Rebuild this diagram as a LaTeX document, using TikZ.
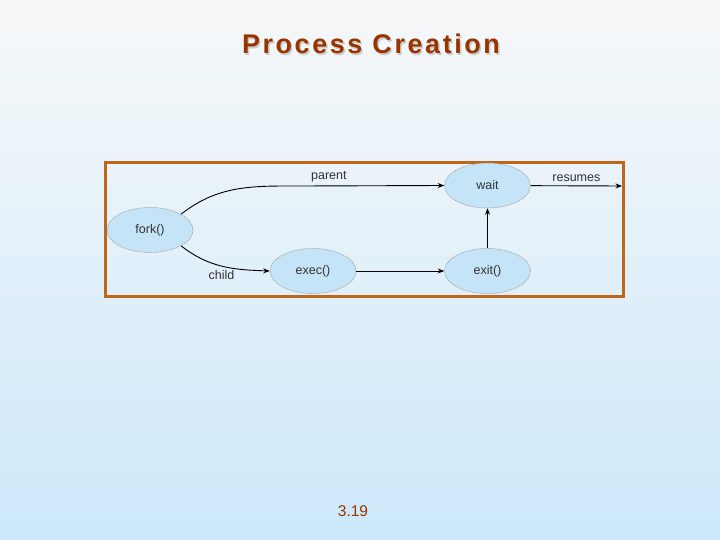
\documentclass[tikz,border=0pt]{standalone}
\usepackage{fontspec}
\setmainfont{Liberation Sans}
\usepackage{xcolor}
\usepackage{tikz}
\usetikzlibrary{arrows.meta,positioning,shapes.geometric}
\definecolor{titlebrown}{RGB}{153,51,0}
\definecolor{frameorange}{RGB}{192,102,26}
\definecolor{ovalblue}{RGB}{197,228,247}
\definecolor{bgtop}{RGB}{247,248,249}
\definecolor{bgbottom}{RGB}{204,232,250}
\tikzset{
  proc/.style={ellipse, draw=gray!80, dash pattern=on 1.5pt off 0.8pt, line width=0.5pt, fill=ovalblue, minimum width=86pt, minimum height=45pt, inner sep=0pt, font=\fontsize{12.5}{14}\selectfont, text=black!80},
  arr/.style={-{Stealth[length=6.5pt,width=5pt]}, line width=0.9pt},
  lbl/.style={font=\fontsize{12.5}{14}\selectfont, text=black!80},
  titlefont/.style={font=\bfseries\fontsize{27}{32}\selectfont\addfontfeatures{LetterSpace=9.5}}
}

\begin{document}
\begin{tikzpicture}[x=1pt, y=-1pt]
  \shade[top color=bgtop, bottom color=bgbottom] (0,0) rectangle (720,540);
  \useasboundingbox (0,0) rectangle (720,540);

  % title with its shadow
  \node[titlefont, text=gray!40] at (372.5,45.5) {Process Creation};
  \node[titlefont, text=titlebrown] (title) at (371,44) {Process Creation};

  \draw[frameorange, line width=3pt] (105,163) rectangle (623,296);

  \node[proc] (fork) at (150,230) {fork()};
  \node[proc] (exec) at (313,271) {exec()};
  \node[proc, right=88pt of exec] (exit) {exit()};
  \node[proc, above=40pt of exit] (wait) {wait};
  \coordinate (resume) at (622,186);
  \coordinate (bend) at (300,186);

  \draw[arr] (fork.27) to[out=38,in=180] (bend) -- node[lbl, above, pos=0.2]{parent} (wait.west);
  \draw[arr] (fork.-27) to[out=-38,in=178] node[lbl, below=0pt, pos=0.5, xshift=-1pt]{child} (exec.west);
  \draw[arr] (exec) -- (exit);
  \draw[arr] (exit) -- (wait);
  \draw[arr] (wait) -- node[lbl, above]{resumes} (resume);

  \node[text=titlebrown, font=\fontsize{15.5}{18}\selectfont] (page) at (353,511) {3.19};
\end{tikzpicture}
\end{document}
